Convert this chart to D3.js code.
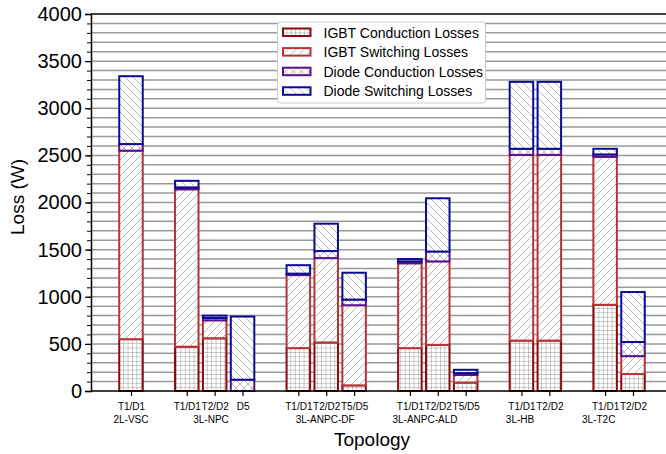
<!DOCTYPE html>
<html>
<head>
<meta charset="utf-8">
<title>Loss breakdown per topology</title>
<script src="https://d3js.org/d3.v7.min.js"></script>
<style>
  body { margin: 0; background: #fff; }
  text { font-family: "Liberation Sans", Arial, sans-serif; fill: #000; }
</style>
</head>
<body>
<div id="chart"></div>
<script type="text/javascript">

  // topologies and the devices shown inside each one
  const groups = ["2L-VSC", "3L-NPC", "3L-ANPC-DF", "3L-ANPC-ALD", "3L-HB", "3L-T2C"];
  const devices = [
    ["T1/D1"],
    ["T1/D1", "T2/D2", "D5"],
    ["T1/D1", "T2/D2", "T5/D5"],
    ["T1/D1", "T2/D2", "T5/D5"],
    ["T1/D1", "T2/D2"],
    ["T1/D1", "T2/D2"]
  ];

  // losses in W, one value per device bar
  const igbtCond  = [550,  470, 560,   0,  455, 515,  60,  455, 490, 90,  535,  535,  915, 180];
  const igbtSw    = [2000, 1670, 190,  0,  775, 895, 850,  900, 885, 80,  1970, 1970, 1570, 190];
  const diodeCond = [70,   20,  25,  120,  15,  75,  60,   20, 105, 20,  65,   65,   25, 150];
  const diodeSw   = [720,  70,  25,  670,  90, 290, 285,   25, 565, 35,  710,  710,  60, 530];

  const seriesNames = ["IGBT Conduction Losses", "IGBT Switching Losses", "Diode Conduction Losses", "Diode Switching Losses"];
  const yTicks = [0, 500, 1000, 1500, 2000, 2500, 3000, 3500, 4000];

  // where the second line (topology name) sits, in bar-slot units
  const groupLabelSlot = [0, 2.87, 6.96, 10.54, 13.95, 16.77];

  const keys = ["ic", "is", "dc", "ds"];
  const edge = { ic: "#8b0a0a", is: "#b83434", dc: "#5a0f8f", ds: "#0b0b96" };
  const hatch = { ic: "grid", is: "fwd", dc: "cross", ds: "back" };

  // each group is followed by one empty slot
  let rows = [];
  let slot = 0, k = 0;
  devices.forEach((devs, g) => {
    devs.forEach(d => {
      rows.push({ slot: slot, dev: d, group: g, ic: igbtCond[k], is: igbtSw[k], dc: diodeCond[k], ds: diodeSw[k] });
      slot++; k++;
    });
    slot++;
  });

  const width = 666, height = 454;
  const svg = d3.select("#chart").append("svg")
    .attr("width", width)
    .attr("height", height);

  const x = d3.scaleLinear().domain([0, 18]).range([131, 633]);
  const y = d3.scaleLinear().domain([0, 4000]).range([391, 14]);
  const left = 91, right = 666;
  const barW = 23.5;

  // hatch patterns
  const defs = svg.append("defs");
  const addPattern = (id, size, d, color, sw) => {
    const p = defs.append("pattern")
      .attr("id", id)
      .attr("patternUnits", "userSpaceOnUse")
      .attr("width", size)
      .attr("height", size);
    p.append("rect").attr("width", size).attr("height", size).attr("fill", "white");
    p.append("path").attr("d", d).attr("stroke", color).attr("stroke-width", sw).attr("fill", "none");
  };
  addPattern("grid", 4.4, "M0,0 L4.4,0 M0,0 L0,4.4", "#555", 0.6);
  addPattern("fwd", 8, "M0,8 L8,0 M-2,2 L2,-2 M6,10 L10,6", "#a6a6a6", 0.8);
  addPattern("back", 8, "M0,0 L8,8 M-2,6 L2,10 M6,-2 L10,2", "#a6a6a6", 0.8);
  addPattern("cross", 8, "M0,8 L8,0 M-2,2 L2,-2 M6,10 L10,6 M0,0 L8,8 M-2,6 L2,10 M6,-2 L10,2", "#a6a6a6", 0.8);

  // grey grid lines every 100 W
  svg.append("g").selectAll("line")
    .data(d3.range(100, 4000, 100))
    .join("line")
    .attr("x1", left).attr("x2", right)
    .attr("y1", d => y(d)).attr("y2", d => y(d))
    .attr("stroke", "#999")
    .attr("stroke-width", 1.5);

  // top frame line
  svg.append("line")
    .attr("x1", left).attr("x2", right)
    .attr("y1", y(4000)).attr("y2", y(4000))
    .attr("stroke", "black").attr("stroke-width", 1.5);

  // stacked bars
  const stacked = d3.stack().keys(keys)(rows);
  svg.append("g").selectAll("g")
    .data(stacked)
    .join("g")
    .each(function(s) {
      d3.select(this).selectAll("rect")
        .data(s.filter(d => d[1] - d[0] > 0))
        .join("rect")
        .attr("x", d => x(d.data.slot) - barW / 2)
        .attr("width", barW)
        .attr("y", d => y(d[1]))
        .attr("height", d => y(d[0]) - y(d[1]))
        .attr("fill", "url(#" + hatch[s.key] + ")")
        .attr("stroke", edge[s.key])
        .attr("stroke-width", 2);
    });

  // y axis
  const yAxis = svg.append("g")
    .attr("transform", "translate(" + left + ",0)")
    .call(d3.axisLeft(y).tickValues(yTicks).tickSize(6).tickPadding(3).tickFormat(d3.format("d")));
  svg.append("g")
    .attr("transform", "translate(" + left + ",0)")
    .call(d3.axisLeft(y).tickValues(d3.range(0, 4001, 100)).tickSize(4).tickFormat(""))
    .call(g => g.select(".domain").remove());
  yAxis.select(".domain").attr("stroke-width", 1.5);
  yAxis.selectAll("line").attr("stroke-width", 1.2);
  yAxis.selectAll("text")
    .style("font-size", "20px")
    .style("font-family", "Liberation Sans, Arial, sans-serif");

  // x axis
  const xAxis = svg.append("g")
    .attr("transform", "translate(0," + y(0) + ")")
    .call(d3.axisBottom(x)
      .tickValues(rows.map(r => r.slot))
      .tickSize(5)
      .tickPadding(7)
      .tickFormat(s => rows.find(r => r.slot === s).dev));
  xAxis.select(".domain").attr("d", "M" + left + ",0H" + right).attr("stroke-width", 1.5);
  xAxis.selectAll("line").attr("stroke-width", 1.2);
  xAxis.selectAll("text")
    .style("font-size", "10px")
    .style("font-family", "Liberation Sans, Arial, sans-serif");

  // topology names under the device labels
  svg.append("g").selectAll("text")
    .data(groups)
    .join("text")
    .attr("x", (d, i) => x(groupLabelSlot[i]))
    .attr("y", 422.5)
    .attr("text-anchor", "middle")
    .style("font-size", "10px")
    .text(d => d);

  // axis titles
  svg.append("text")
    .attr("x", 372)
    .attr("y", 446)
    .attr("text-anchor", "middle")
    .style("font-size", "19px")
    .text("Topology");

  svg.append("text")
    .attr("transform", "translate(24,197) rotate(-90)")
    .attr("text-anchor", "middle")
    .style("font-size", "19px")
    .text("Loss (W)");

  // legend
  const legend = svg.append("g").attr("transform", "translate(277.5,22)");
  legend.append("rect")
    .attr("width", 208)
    .attr("height", 81)
    .attr("rx", 3)
    .attr("fill", "white")
    .attr("stroke", "#cccccc");
  const item = legend.selectAll("g.item")
    .data(keys)
    .join("g")
    .attr("class", "item")
    .attr("transform", (d, i) => "translate(0," + (10.5 + i * 19.6) + ")");
  item.append("rect")
    .attr("x", 5.5)
    .attr("y", -4)
    .attr("width", 27.5)
    .attr("height", 7.5)
    .attr("fill", d => "url(#" + hatch[d] + ")")
    .attr("stroke", d => edge[d])
    .attr("stroke-width", 2);
  item.append("text")
    .attr("x", 46)
    .attr("y", 5)
    .style("font-size", "14px")
    .text((d, i) => seriesNames[i]);

</script>
</body>
</html>
